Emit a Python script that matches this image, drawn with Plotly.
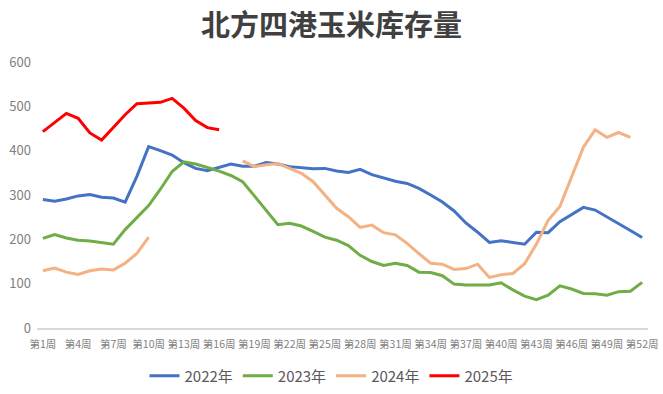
import plotly.graph_objects as go

weeks = [f"第{i}周" for i in range(1, 53)]
tick_labels = [f"第{i}周" for i in range(1, 53, 3)]

s2022 = [290, 286, 291, 298, 301, 295, 293, 284, 342, 409, 400, 390, 373, 360, 355, 362,
         370, 365, 365, 373, 370, 364, 362, 359, 360, 354, 351, 358, 346, 338, 331, 326,
         315, 300, 284, 264, 237, 216, 193, 197, 193, 189, 216, 215, 240, 257, 272, 266,
         251, 235, 220, 204]
s2023 = [202, 211, 203, 198, 196, 192, 189, 222, 248, 276, 313, 353, 375, 370, 362, 354,
         344, 330, 298, 265, 233, 236, 230, 218, 205, 198, 186, 164, 150, 141, 146, 141,
         126, 125, 118, 99, 97, 97, 97, 102, 86, 72, 64, 74, 95, 88, 78, 77,
         74, 82, 83, 103]
s2024 = [129, 135, 126, 121, 129, 133, 131, 146, 168, 205, None, None, None, None, None, None,
         None, 377, 364, 368, 371, 360, 349, 330, 300, 270, 251, 227, 232, 215, 210, 191,
         168, 146, 144, 132, 134, 144, 114, 120, 123, 145, 189, 243, 274, 341, 408, 447,
         430, 441, 430, None]
s2025 = [443, 463, 484, 473, 440, 424, 452, 481, 506, 507, 509, 518, 496, 468, 452, 447]

series = [
    ("2022年", s2022, "#4472C4"),
    ("2023年", s2023, "#70AD47"),
    ("2024年", s2024, "#F4B183"),
    ("2025年", s2025, "#FF0000"),
]

FONT = "Noto Sans CJK SC"

fig = go.Figure()
for name, vals, color in series:
    fig.add_trace(go.Scatter(
        x=weeks[:len(vals)], y=vals, name=name, mode="lines",
        line=dict(color=color, width=3), connectgaps=False,
    ))

fig.update_layout(
    width=663, height=394,
    margin=dict(l=37, r=15, t=62, b=66),
    paper_bgcolor="white", plot_bgcolor="white",
    font=dict(family=FONT, color="#7F7F7F"),
    title=dict(text="北方四港玉米库存量", x=0.5, xref="container", xanchor="center",
               y=1 - 26 / 394, yref="container", yanchor="middle",
               font=dict(family=FONT, size=29, color="#404040", weight="bold")),
    showlegend=True,
    legend=dict(orientation="h", x=0.5, xref="container", xanchor="center",
                y=1 - 376 / 394, yref="container", yanchor="middle",
                font=dict(family=FONT, size=15, color="#595959"),
                itemwidth=30, tracegroupgap=0),
)
fig.update_xaxes(
    type="category", categoryorder="array", categoryarray=weeks,
    range=[-0.5, 51.5], automargin=False,
    tickmode="array", tickvals=tick_labels, ticktext=tick_labels,
    tickangle=0, ticklabelstandoff=6,
    tickfont=dict(size=10.5, color="#7F7F7F"),
    showgrid=False, showline=True, linecolor="#D9D9D9", linewidth=1.5,
    ticks="", zeroline=False,
)
fig.update_yaxes(
    range=[0, 600], tickvals=[0, 100, 200, 300, 400, 500, 600], automargin=False,
    ticklabelstandoff=5,
    tickfont=dict(size=13, color="#7F7F7F"),
    showgrid=False, zeroline=False, showline=False, ticks="",
)

fig.write_html("out.html", config={"displayModeBar": False},
               post_script="document.body.style.margin='0';document.body.style.padding='0';")
